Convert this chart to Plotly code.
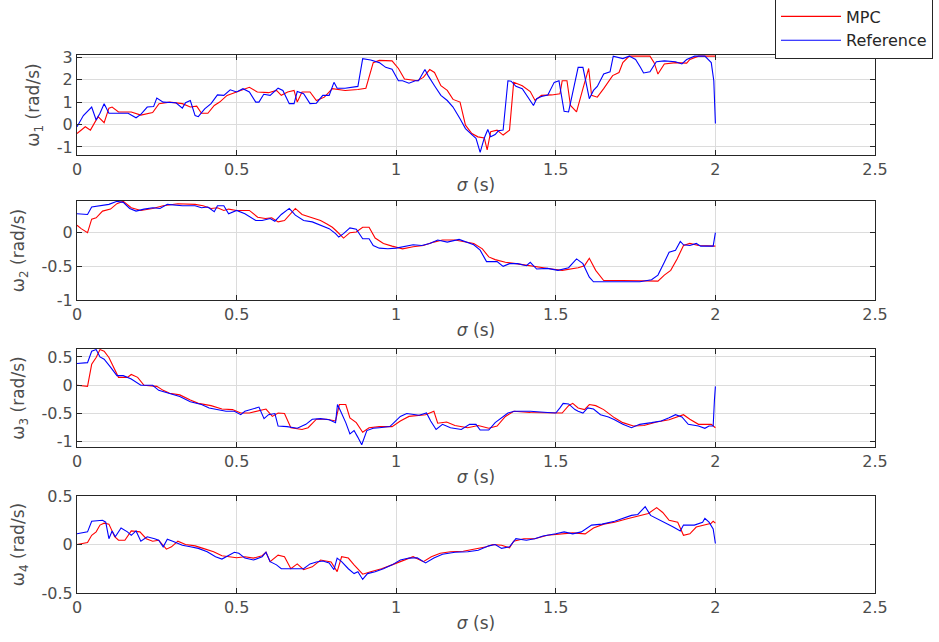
import plotly.graph_objects as go
from plotly.subplots import make_subplots

# ---- angular velocity traces: time (s) and value (rad/s) ----
t1_mpc = [0, 0.026, 0.042, 0.053, 0.066, 0.085, 0.1, 0.11, 0.13, 0.17, 0.2, 0.237, 0.257, 0.29, 0.33, 0.355,
          0.375, 0.39, 0.41, 0.43, 0.447, 0.47, 0.5, 0.54, 0.565, 0.6, 0.625, 0.64, 0.66, 0.68, 0.69, 0.705,
          0.73, 0.75, 0.775, 0.8, 0.84, 0.88, 0.905, 0.928, 0.947, 0.987, 1.007, 1.026, 1.066, 1.085, 1.105,
          1.12, 1.14, 1.16, 1.178, 1.2, 1.217, 1.237, 1.256, 1.276, 1.285, 1.296, 1.316, 1.335, 1.355, 1.368,
          1.395, 1.42, 1.435, 1.455, 1.487, 1.513, 1.52, 1.535, 1.546, 1.565, 1.585, 1.603, 1.612, 1.63, 1.65,
          1.678, 1.698, 1.71, 1.73, 1.795, 1.808, 1.82, 1.84, 1.875, 1.91, 1.92, 1.947, 2.0]
w1_mpc = [-0.4, -0.1, -0.25, 0.05, 0.35, 0.08, 0.73, 0.78, 0.56, 0.56, 0.42, 0.53, 0.93, 1.0, 0.93, 0.78,
          0.82, 0.5, 0.5, 0.85, 1.0, 1.3, 1.45, 1.66, 1.45, 1.42, 1.52, 1.3, 1.45, 1.52, 1.0, 1.45,
          1.45, 1.07, 1.22, 1.6, 1.52, 1.56, 1.62, 2.76, 2.86, 2.84, 2.5, 2.03, 1.95, 2.1, 2.45,
          2.32, 1.73, 1.52, 1.12, 1.0, -0.03, -0.4, -0.55, -0.6, -1.13, -0.32, -0.25, -0.47, -0.25, 1.88,
          1.73, 1.47, 1.07, 1.3, 1.32, 1.37, 1.95, 1.95, 0.85, 0.56, 1.6, 2.5, 1.3, 1.22, 1.6,
          2.18, 2.32, 2.76, 3.05, 3.05, 2.76, 2.25, 2.7, 2.76, 2.74, 2.9, 3.05, 3.05]

t1_ref = [0, 0.02, 0.046, 0.06, 0.072, 0.085, 0.1, 0.13, 0.16, 0.185, 0.2, 0.22, 0.24, 0.25, 0.27, 0.31,
          0.33, 0.34, 0.355, 0.37, 0.38, 0.4, 0.42, 0.44, 0.46, 0.48, 0.5, 0.52, 0.54, 0.56, 0.57, 0.585,
          0.605, 0.63, 0.645, 0.665, 0.68, 0.69, 0.71, 0.73, 0.75, 0.77, 0.79, 0.805, 0.815, 0.84, 0.86,
          0.88, 0.895, 0.92, 0.947, 0.967, 0.987, 1.007, 1.02, 1.04, 1.06, 1.07, 1.09, 1.1, 1.12, 1.14,
          1.16, 1.178, 1.2, 1.217, 1.237, 1.25, 1.263, 1.276, 1.287, 1.296, 1.31, 1.32, 1.335, 1.35, 1.36,
          1.375, 1.395, 1.41, 1.43, 1.44, 1.455, 1.475, 1.495, 1.51, 1.52, 1.526, 1.54, 1.553, 1.57, 1.585,
          1.6, 1.605, 1.618, 1.63, 1.65, 1.67, 1.68, 1.71, 1.73, 1.75, 1.765, 1.775, 1.795, 1.815, 1.84,
          1.875, 1.895, 1.91, 1.935, 1.967, 1.987, 1.995, 2.0]
w1_ref = [-0.1, 0.4, 0.78, 0.2, 0.5, 0.93, 0.5, 0.5, 0.5, 0.3, 0.45, 0.78, 0.8, 1.18, 1.0, 0.97,
          0.73, 0.97, 1.07, 0.4, 0.35, 0.7, 0.93, 1.32, 1.3, 1.55, 1.45, 1.6, 1.45, 1.0, 1.0, 1.35,
          1.3, 1.62, 1.52, 0.93, 0.93, 1.47, 1.37, 0.93, 0.95, 1.3, 1.3, 1.88, 1.62, 1.62, 1.66,
          1.7, 2.94, 2.88, 2.76, 2.55, 2.47, 1.95, 1.95, 1.84, 1.95, 1.95, 2.45, 2.18, 1.73, 1.3,
          1.07, 0.78, 0.26, -0.18, -0.45, -0.62, -1.24, -0.6, -0.22, -0.55, -0.45, -0.28, -0.25, 1.95, 1.93,
          1.7, 1.6, 1.3, 0.85, 1.15, 1.25, 1.32, 1.88, 1.95, 1.15, 0.59, 0.56, 1.44, 2.55, 2.55,
          1.6, 1.15, 1.52, 1.7, 2.25, 2.35, 3.05, 2.94, 3.05, 2.9, 2.55, 2.3, 2.35, 2.8, 2.84,
          2.8, 2.7, 2.9, 3.05, 3.05, 2.76, 1.95, 0.05]

t2_mpc = [0, 0.013, 0.033, 0.046, 0.06, 0.08, 0.105, 0.125, 0.145, 0.17, 0.2, 0.237, 0.27, 0.316, 0.37,
          0.395, 0.42, 0.44, 0.46, 0.475, 0.5, 0.54, 0.566, 0.59, 0.61, 0.63, 0.65, 0.67, 0.684, 0.705,
          0.73, 0.763, 0.783, 0.8, 0.816, 0.835, 0.855, 0.875, 0.895, 0.915, 0.934, 0.96, 0.987, 1.02,
          1.053, 1.085, 1.118, 1.145, 1.184, 1.217, 1.243, 1.27, 1.29, 1.31, 1.342, 1.375, 1.413, 1.447,
          1.487, 1.52, 1.553, 1.57, 1.59, 1.605, 1.625, 1.637, 1.65, 1.71, 1.776, 1.82, 1.84, 1.86, 1.88,
          1.9, 1.92, 1.947, 2.0]
w2_mpc = [0.11, 0.06, 0.0, 0.2, 0.22, 0.32, 0.35, 0.43, 0.465, 0.37, 0.33, 0.36, 0.4, 0.43, 0.42,
          0.4, 0.36, 0.37, 0.33, 0.35, 0.33, 0.33, 0.23, 0.21, 0.22, 0.16, 0.18, 0.28, 0.36, 0.27,
          0.23, 0.18, 0.13, 0.08, 0.01, -0.08, 0.0, 0.01, 0.08, 0.08, -0.08, -0.16, -0.2, -0.24,
          -0.21, -0.19, -0.14, -0.11, -0.11, -0.14, -0.16, -0.24, -0.36, -0.4, -0.44, -0.46, -0.49, -0.51,
          -0.54, -0.56, -0.54, -0.52, -0.49, -0.38, -0.56, -0.63, -0.71, -0.71, -0.72, -0.72, -0.63, -0.56, -0.39,
          -0.19, -0.16, -0.19, -0.2]

t2_ref = [0, 0.033, 0.046, 0.072, 0.1, 0.125, 0.145, 0.165, 0.185, 0.21, 0.237, 0.26, 0.283, 0.33, 0.37,
          0.39, 0.41, 0.43, 0.44, 0.46, 0.475, 0.5, 0.526, 0.56, 0.58, 0.605, 0.62, 0.64, 0.665, 0.684,
          0.71, 0.737, 0.763, 0.79, 0.81, 0.82, 0.835, 0.855, 0.875, 0.895, 0.915, 0.928, 0.947, 0.974,
          1.0, 1.026, 1.053, 1.08, 1.105, 1.13, 1.16, 1.197, 1.224, 1.243, 1.263, 1.283, 1.316, 1.335,
          1.355, 1.38, 1.408, 1.42, 1.44, 1.474, 1.507, 1.54, 1.565, 1.585, 1.605, 1.618, 1.684, 1.763,
          1.8, 1.82, 1.84, 1.855, 1.875, 1.89, 1.9, 1.92, 1.94, 1.954, 1.993, 2.0]
w2_ref = [0.28, 0.27, 0.38, 0.4, 0.42, 0.465, 0.45, 0.36, 0.32, 0.35, 0.37, 0.36, 0.42, 0.4, 0.4,
          0.37, 0.38, 0.31, 0.4, 0.4, 0.28, 0.33, 0.28, 0.18, 0.18, 0.21, 0.17, 0.27, 0.36, 0.26,
          0.18, 0.16, 0.11, 0.06, -0.015, -0.065, -0.015, 0.07, 0.05, -0.09, -0.09, -0.19, -0.23, -0.24,
          -0.23, -0.21, -0.18, -0.19, -0.16, -0.11, -0.14, -0.1, -0.15, -0.18, -0.26, -0.43, -0.43, -0.5,
          -0.46, -0.46, -0.49, -0.44, -0.54, -0.53, -0.56, -0.52, -0.39, -0.46, -0.66, -0.73, -0.73, -0.73,
          -0.7, -0.63, -0.44, -0.29, -0.26, -0.13, -0.18, -0.19, -0.16, -0.2, -0.2, 0.0]

t3_mpc = [0, 0.02, 0.033, 0.046, 0.06, 0.072, 0.085, 0.1, 0.118, 0.13, 0.158, 0.17, 0.19, 0.21, 0.25,
          0.27, 0.29, 0.322, 0.355, 0.38, 0.42, 0.454, 0.487, 0.513, 0.54, 0.566, 0.592, 0.612, 0.63, 0.65,
          0.67, 0.705, 0.724, 0.75, 0.783, 0.81, 0.822, 0.842, 0.855, 0.875, 0.895, 0.915, 0.947, 0.987,
          1.013, 1.04, 1.092, 1.118, 1.13, 1.158, 1.184, 1.224, 1.257, 1.29, 1.316, 1.342, 1.368, 1.42,
          1.474, 1.507, 1.52, 1.54, 1.553, 1.57, 1.59, 1.605, 1.625, 1.65, 1.684, 1.71, 1.743, 1.776,
          1.816, 1.855, 1.9, 1.92, 1.947, 1.987, 2.0]
w3_mpc = [0.0, -0.02, -0.02, 0.37, 0.49, 0.63, 0.6, 0.49, 0.29, 0.14, 0.14, 0.19, 0.14, 0.0, -0.02,
          -0.09, -0.14, -0.17, -0.26, -0.32, -0.36, -0.42, -0.43, -0.49, -0.49, -0.46, -0.42, -0.55, -0.49, -0.5,
          -0.75, -0.78, -0.75, -0.6, -0.6, -0.63, -0.34, -0.34, -0.575, -0.66, -0.83, -0.75, -0.73, -0.73,
          -0.63, -0.55, -0.52, -0.46, -0.67, -0.65, -0.71, -0.75, -0.71, -0.76, -0.72, -0.55, -0.46, -0.48,
          -0.49, -0.5, -0.49, -0.36, -0.32, -0.4, -0.43, -0.34, -0.36, -0.43, -0.575, -0.66, -0.72, -0.71,
          -0.65, -0.61, -0.52, -0.6, -0.69, -0.69, -0.75]

t3_ref = [0, 0.033, 0.046, 0.06, 0.072, 0.085, 0.105, 0.125, 0.145, 0.17, 0.2, 0.237, 0.256, 0.283, 0.322,
          0.355, 0.39, 0.414, 0.44, 0.467, 0.493, 0.513, 0.526, 0.553, 0.57, 0.586, 0.6, 0.62, 0.63, 0.658,
          0.69, 0.717, 0.737, 0.763, 0.79, 0.81, 0.816, 0.826, 0.842, 0.855, 0.868, 0.88, 0.892, 0.908,
          0.928, 0.947, 0.98, 0.993, 1.013, 1.033, 1.053, 1.072, 1.095, 1.108, 1.125, 1.145, 1.17, 1.204,
          1.23, 1.25, 1.263, 1.29, 1.31, 1.33, 1.35, 1.37, 1.42, 1.474, 1.5, 1.513, 1.523, 1.54, 1.56,
          1.57, 1.585, 1.6, 1.618, 1.64, 1.665, 1.684, 1.71, 1.737, 1.763, 1.8, 1.83, 1.855, 1.875, 1.895,
          1.915, 1.947, 1.967, 1.98, 1.993, 1.997, 2.0]
w3_ref = [0.385, 0.4, 0.6, 0.63, 0.5, 0.46, 0.32, 0.17, 0.17, 0.11, 0.0, 0.0, -0.09, -0.14, -0.2,
          -0.29, -0.34, -0.4, -0.43, -0.46, -0.46, -0.52, -0.46, -0.42, -0.385, -0.59, -0.52, -0.5, -0.72, -0.73,
          -0.76, -0.69, -0.6, -0.59, -0.61, -0.66, -0.34, -0.46, -0.66, -0.86, -0.8, -0.92, -1.05, -0.8,
          -0.76, -0.75, -0.73, -0.66, -0.55, -0.5, -0.52, -0.53, -0.49, -0.63, -0.78, -0.69, -0.75, -0.78,
          -0.69, -0.69, -0.79, -0.79, -0.66, -0.575, -0.49, -0.46, -0.46, -0.48, -0.49, -0.4, -0.32, -0.33, -0.43,
          -0.46, -0.49, -0.4, -0.42, -0.52, -0.56, -0.61, -0.69, -0.75, -0.69, -0.66, -0.63, -0.575, -0.52, -0.56,
          -0.69, -0.72, -0.76, -0.72, -0.72, -0.26, -0.02]

t4_mpc = [0, 0.013, 0.033, 0.046, 0.06, 0.072, 0.085, 0.1, 0.118, 0.13, 0.15, 0.17, 0.197, 0.217, 0.237,
          0.256, 0.28, 0.296, 0.316, 0.34, 0.37, 0.395, 0.428, 0.454, 0.48, 0.5, 0.526, 0.553, 0.58, 0.592,
          0.605, 0.63, 0.65, 0.67, 0.69, 0.71, 0.737, 0.763, 0.796, 0.815, 0.829, 0.85, 0.868, 0.895,
          0.92, 0.954, 0.987, 1.02, 1.053, 1.085, 1.11, 1.138, 1.17, 1.21, 1.25, 1.283, 1.303, 1.33,
          1.355, 1.368, 1.4, 1.434, 1.474, 1.513, 1.553, 1.592, 1.618, 1.65, 1.684, 1.724, 1.763, 1.79,
          1.816, 1.835, 1.855, 1.882, 1.9, 1.92, 1.94, 1.96, 1.987, 1.993, 2.0]
w4_mpc = [0.0, 0.01, 0.02, 0.095, 0.13, 0.2, 0.22, 0.21, 0.08, 0.044, 0.044, 0.14, 0.13, 0.06, 0.034,
          0.044, -0.048, -0.024, 0.034, 0.0, -0.014, -0.04, -0.075, -0.116, -0.126, -0.136, -0.126, -0.14, -0.116, -0.08,
          -0.177, -0.11, -0.126, -0.25, -0.2, -0.26, -0.23, -0.16, -0.18, -0.28, -0.126, -0.14, -0.21, -0.306,
          -0.28, -0.25, -0.21, -0.17, -0.126, -0.177, -0.126, -0.09, -0.075, -0.07, -0.048, -0.024, 0.0, -0.007,
          -0.034, 0.034, 0.06, 0.06, 0.095, 0.11, 0.12, 0.11, 0.17, 0.21, 0.23, 0.265, 0.3, 0.32,
          0.38, 0.33, 0.25, 0.23, 0.095, 0.11, 0.18, 0.2, 0.22, 0.24, 0.22]

t4_ref = [0, 0.033, 0.046, 0.08, 0.09, 0.1, 0.11, 0.12, 0.138, 0.158, 0.17, 0.185, 0.2, 0.22, 0.243,
          0.256, 0.27, 0.283, 0.3, 0.33, 0.355, 0.38, 0.408, 0.434, 0.454, 0.467, 0.493, 0.507, 0.526, 0.553,
          0.58, 0.592, 0.605, 0.625, 0.64, 0.658, 0.684, 0.71, 0.73, 0.75, 0.77, 0.79, 0.805, 0.815,
          0.829, 0.85, 0.868, 0.88, 0.895, 0.91, 0.934, 0.96, 0.987, 1.013, 1.04, 1.066, 1.092, 1.118,
          1.145, 1.184, 1.224, 1.257, 1.29, 1.31, 1.33, 1.355, 1.375, 1.408, 1.434, 1.46, 1.5, 1.526,
          1.553, 1.58, 1.612, 1.645, 1.684, 1.71, 1.737, 1.757, 1.78, 1.797, 1.816, 1.84, 1.868, 1.89,
          1.9, 1.934, 1.96, 1.967, 1.98, 1.993, 2.0]
w4_ref = [0.11, 0.13, 0.24, 0.25, 0.23, 0.06, 0.14, 0.08, 0.17, 0.13, 0.095, 0.14, 0.034, 0.08, 0.06,
          0.044, -0.024, 0.054, 0.034, -0.007, -0.024, -0.04, -0.075, -0.126, -0.15, -0.126, -0.08, -0.09, -0.14, -0.16,
          -0.126, -0.08, -0.177, -0.21, -0.25, -0.25, -0.25, -0.25, -0.2, -0.18, -0.17, -0.19, -0.26, -0.14,
          -0.177, -0.25, -0.3, -0.28, -0.36, -0.3, -0.28, -0.25, -0.21, -0.16, -0.14, -0.136, -0.19, -0.14,
          -0.1, -0.08, -0.075, -0.06, -0.014, 0.0, -0.04, -0.024, 0.06, 0.044, 0.06, 0.088, 0.11, 0.13,
          0.11, 0.13, 0.2, 0.21, 0.24, 0.27, 0.3, 0.31, 0.39, 0.3, 0.27, 0.23, 0.18, 0.14,
          0.2, 0.2, 0.23, 0.27, 0.23, 0.16, 0.01]

# ---- axis ticks ----
x_ticks = [0, 0.5, 1, 1.5, 2, 2.5]
x_ticktext = ["0", "0.5", "1", "1.5", "2", "2.5"]
y_ticks = [
    [-1, 0, 1, 2, 3],
    [-1, -0.5, 0],
    [-1, -0.5, 0, 0.5],
    [-0.5, 0, 0.5],
]
y_ticktext = [
    ["-1", "0", "1", "2", "3"],
    ["-1", "-0.5", "0"],
    ["-1", "-0.5", "0", "0.5"],
    ["-0.5", "0", "0.5"],
]
y_ranges = [[-1.36, 3.1], [-1.0, 0.47], [-1.09, 0.64], [-0.5, 0.5]]
y_labels = ["ω<sub>1</sub> (rad/s)", "ω<sub>2</sub> (rad/s)", "ω<sub>3</sub> (rad/s)", "ω<sub>4</sub> (rad/s)"]

series = [
    (t1_mpc, w1_mpc, t1_ref, w1_ref),
    (t2_mpc, w2_mpc, t2_ref, w2_ref),
    (t3_mpc, w3_mpc, t3_ref, w3_ref),
    (t4_mpc, w4_mpc, t4_ref, w4_ref),
]

FONT = "DejaVu Sans"
TXT = "#4d4d4d"
AX = "#262626"
GRID = "#dcdcdc"

fig = make_subplots(rows=4, cols=1, shared_xaxes=False)

for i, (tm, wm, tr, wr) in enumerate(series):
    row = i + 1
    fig.add_trace(go.Scatter(x=tm, y=wm, mode="lines", name="MPC",
                             line=dict(color="#ff0000", width=1.1),
                             showlegend=(i == 0), legendgroup="mpc"), row=row, col=1)
    fig.add_trace(go.Scatter(x=tr, y=wr, mode="lines", name="Reference",
                             line=dict(color="#0000ff", width=1.1),
                             showlegend=(i == 0), legendgroup="ref"), row=row, col=1)

domains = [[0.8141, 1.0], [0.5446, 0.7286], [0.2714, 0.4535], [0.0, 0.1803]]

for i in range(4):
    xa = "xaxis" if i == 0 else f"xaxis{i + 1}"
    ya = "yaxis" if i == 0 else f"yaxis{i + 1}"
    fig.layout[xa].update(
        domain=[0, 1], range=[0, 2.5], tickvals=x_ticks, ticktext=x_ticktext,
        showline=True, mirror="ticks", linecolor=AX, linewidth=1,
        ticks="inside", ticklen=5, tickcolor=AX,
        showgrid=True, gridcolor=GRID, gridwidth=1, zeroline=False,
        tickfont=dict(family=FONT, size=16, color=TXT),
        title=dict(text="<i>σ</i> (s)", font=dict(family=FONT, size=17, color=TXT), standoff=0),
    )
    fig.layout[ya].update(
        domain=domains[i], range=y_ranges[i], tickvals=y_ticks[i], ticktext=y_ticktext[i],
        showline=True, mirror="ticks", linecolor=AX, linewidth=1,
        ticks="inside", ticklen=5, tickcolor=AX,
        showgrid=True, gridcolor=GRID, gridwidth=1, zeroline=False,
        tickfont=dict(family=FONT, size=16, color=TXT), automargin=True,
        title=dict(text=y_labels[i], font=dict(family=FONT, size=17, color=TXT), standoff=12),
    )

fig.update_layout(
    width=939, height=642,
    margin=dict(l=77, r=64, t=55, b=49, autoexpand=False),
    plot_bgcolor="white", paper_bgcolor="white",
    font=dict(family=FONT, size=16, color=TXT),
    legend=dict(x=0.8747, y=1.105, xanchor="left", yanchor="top",
                bgcolor="white", bordercolor=AX, borderwidth=1,
                font=dict(family=FONT, size=16, color="#262626"),
                tracegroupgap=0, itemwidth=60),
)

fig.write_html("out.html")
